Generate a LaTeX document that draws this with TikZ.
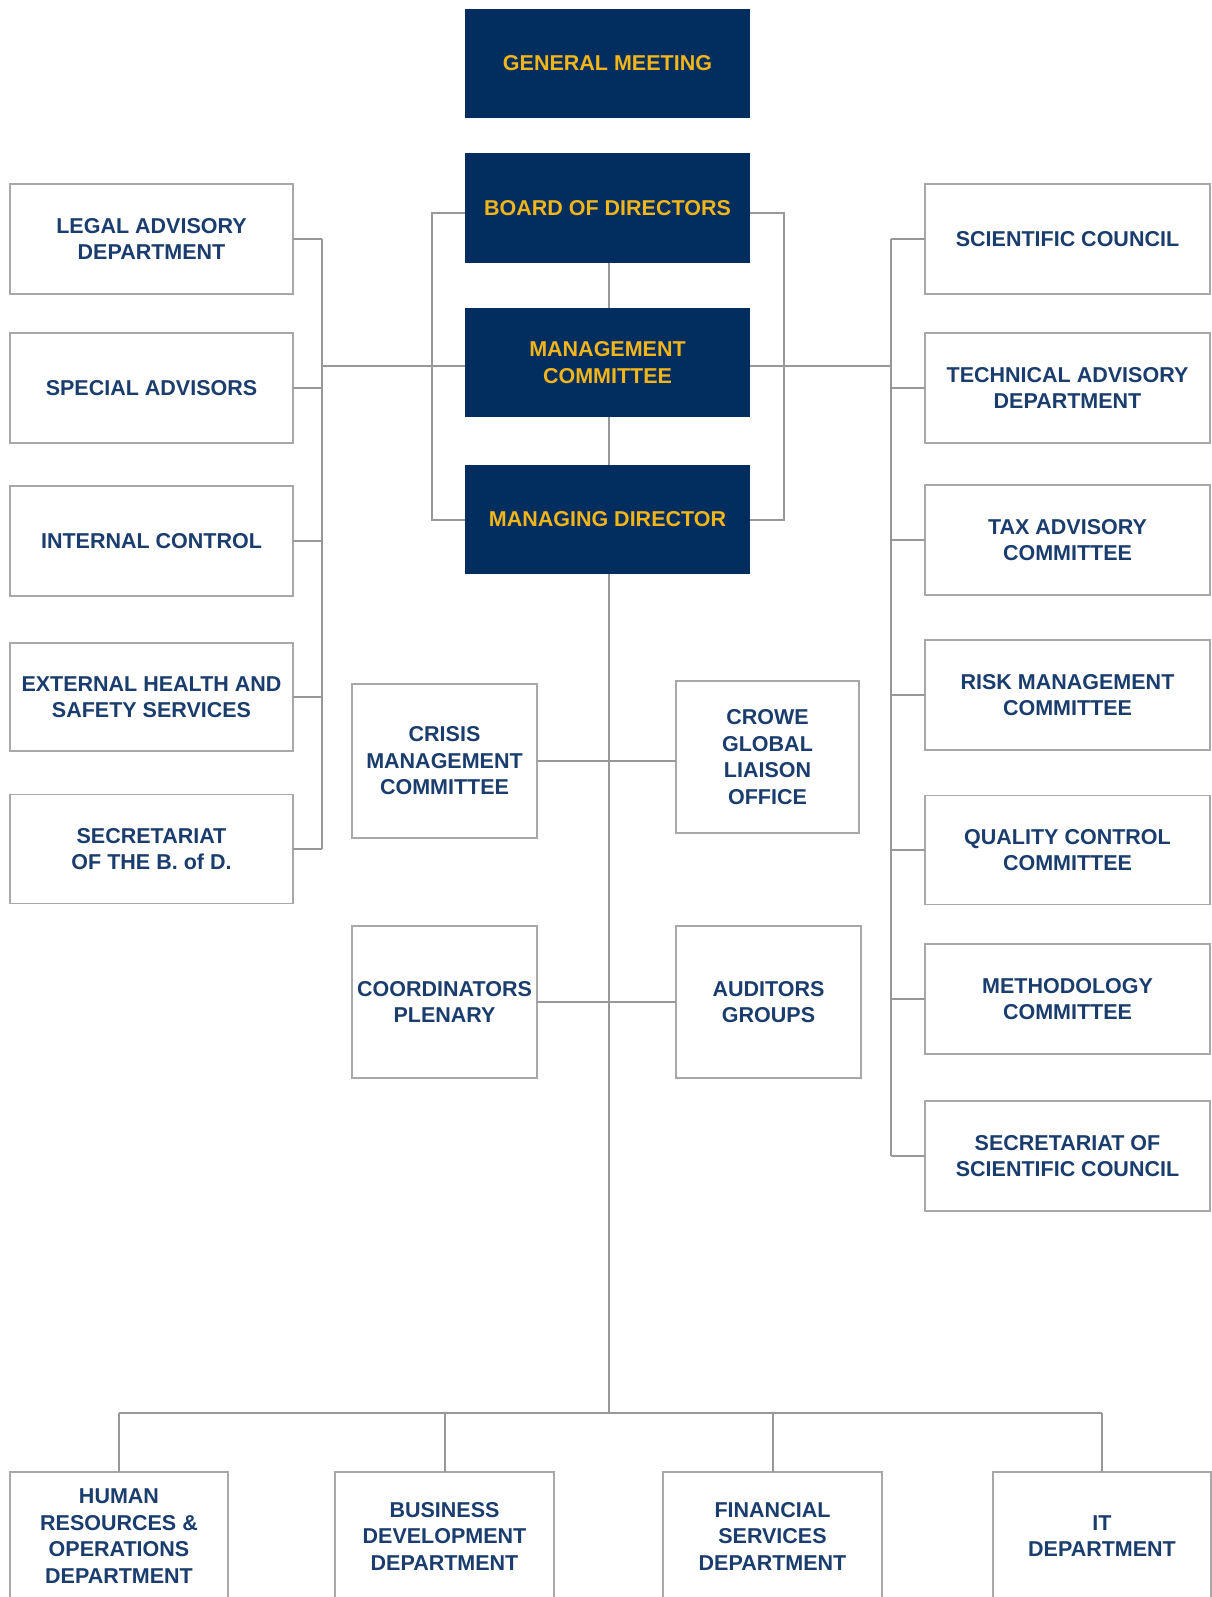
\documentclass[tikz,border=0pt]{standalone}
\usepackage{fontspec}
\setmainfont{Liberation Sans}
\definecolor{navy}{HTML}{022D5F}
\definecolor{gold}{HTML}{F2B51A}
\definecolor{txtblue}{HTML}{1A3D6E}
\definecolor{linegray}{HTML}{989898}
\definecolor{boxgray}{HTML}{A8A8A8}
\begin{document}
\begin{tikzpicture}[x=1pt,y=-1pt,
  lbl/.style={font={\fontsize{21.5}{26.5}\selectfont\bfseries}, align=center, inner sep=0pt, outer sep=0pt},
  wbox/.style={lbl, draw=boxgray, line width=1.6pt, fill=white, text=txtblue},
  dbox/.style={lbl, fill=navy, text=gold, minimum width=285, minimum height=109},
  conn/.style={draw=linegray, line width=2pt},
  lcol/.style={wbox, minimum width=283},
  rcol/.style={wbox, minimum width=285},
  mid/.style={wbox, minimum width=185},
  bot/.style={wbox, minimum width=218, minimum height=128}]
\useasboundingbox (0,0) rectangle (1211,1597);
\fill[white] (0,0) rectangle (1211,1597);

% top column
\node[dbox] (gm) at (607.5,63.5) {GENERAL MEETING};
\node[dbox, minimum height=110] (board) at (607.5,208) {BOARD OF DIRECTORS};
\node[dbox] (mgmt) at (607.5,362.5) {MANAGEMENT\\COMMITTEE};
\node[dbox] (md) at (607.5,519.5) {MANAGING DIRECTOR};

% left column
\node[lcol, minimum height=110] (legal) at (151.5,239) {LEGAL ADVISORY\\DEPARTMENT};
\node[lcol, minimum height=110] (special) at (151.5,388) {SPECIAL ADVISORS};
\node[lcol, minimum height=110] (internal) at (151.5,541) {INTERNAL CONTROL};
\node[lcol, minimum height=108] (external) at (151.5,697) {EXTERNAL HEALTH AND\\SAFETY SERVICES};
\node[lcol, minimum height=109] (secbd) at (151.5,849) {SECRETARIAT\\OF THE B. of D.};

% right column
\node[rcol, minimum height=110] (sci) at (1067.5,239) {SCIENTIFIC COUNCIL};
\node[rcol, minimum height=110] (tech) at (1067.5,388) {TECHNICAL ADVISORY\\DEPARTMENT};
\node[rcol, minimum height=110] (tax) at (1067.5,540) {TAX ADVISORY\\COMMITTEE};
\node[rcol, minimum height=110] (risk) at (1067.5,695) {RISK MANAGEMENT\\COMMITTEE};
\node[rcol, minimum height=109] (qual) at (1067.5,850) {QUALITY CONTROL\\COMMITTEE};
\node[rcol, minimum height=110] (meth) at (1067.5,999) {METHODOLOGY\\COMMITTEE};
\node[rcol, minimum height=110] (secsc) at (1067.5,1156) {SECRETARIAT OF\\SCIENTIFIC COUNCIL};

% middle
\node[mid, minimum height=154] (crisis) at (444.5,761) {CRISIS\\MANAGEMENT\\COMMITTEE};
\node[mid, minimum width=183, minimum height=152] (crowe) at (767.5,757) {CROWE\\GLOBAL\\LIAISON\\OFFICE};
\node[mid, minimum height=152] (coord) at (444.5,1002) {COORDINATORS\\PLENARY};
\node[mid, minimum height=152] (aud) at (768.5,1002) {AUDITORS\\GROUPS};

% bottom
\node[bot] (hr) at (119,1536) {HUMAN\\RESOURCES \&\\OPERATIONS\\DEPARTMENT};
\node[bot, minimum width=219] (bus) at (444.5,1536) {BUSINESS\\DEVELOPMENT\\DEPARTMENT};
\node[bot, minimum width=219] (fin) at (772.5,1536) {FINANCIAL\\SERVICES\\DEPARTMENT};
\node[bot] (it) at (1102,1536) {IT\\DEPARTMENT};

% spine coordinates
\coordinate (ls) at (322,0);
\coordinate (rs) at (891,0);
\coordinate (bl) at (432,0);
\coordinate (br) at (784,0);
\coordinate (cx) at (609,0);
\coordinate (busy) at (0,1413);

% central column links
\draw[conn] (board.south -| cx) -- (mgmt.north -| cx);
\draw[conn] (mgmt.south -| cx) -- (md.north -| cx);
\draw[conn] (md.south -| cx) -- (cx |- busy);
% brackets
\draw[conn] ([yshift=-5pt]board.west) -| (bl |- md.west) -- (md.west);
\draw[conn] ([yshift=-5pt]board.east) -| (br |- md.east) -- (md.east);
% left group
\draw[conn] (legal.east -| ls) -- (secbd.east -| ls);
\foreach \n in {legal,special,internal,external,secbd}
  \draw[conn] (\n.east) -- (\n.east -| ls);
\draw[conn] ([yshift=-3.5pt]mgmt.west) -- ([yshift=-3.5pt]mgmt.west -| ls);
% right group
\draw[conn] (sci.west -| rs) -- (secsc.west -| rs);
\foreach \n in {sci,tech,tax,risk,qual,meth,secsc}
  \draw[conn] (\n.west) -- (\n.west -| rs);
\draw[conn] ([yshift=-3.5pt]mgmt.east) -- ([yshift=-3.5pt]mgmt.east -| rs);
% middle pairs
\draw[conn] (crisis.east) -- (crisis.east -| crowe.west);
\draw[conn] (coord.east) -- (coord.east -| aud.west);
% bottom bus
\draw[conn] (hr.north |- busy) -- (it.north |- busy);
\foreach \n in {hr,bus,fin,it}
  \draw[conn] (\n.north) -- (\n.north |- busy);
\end{tikzpicture}
\end{document}
